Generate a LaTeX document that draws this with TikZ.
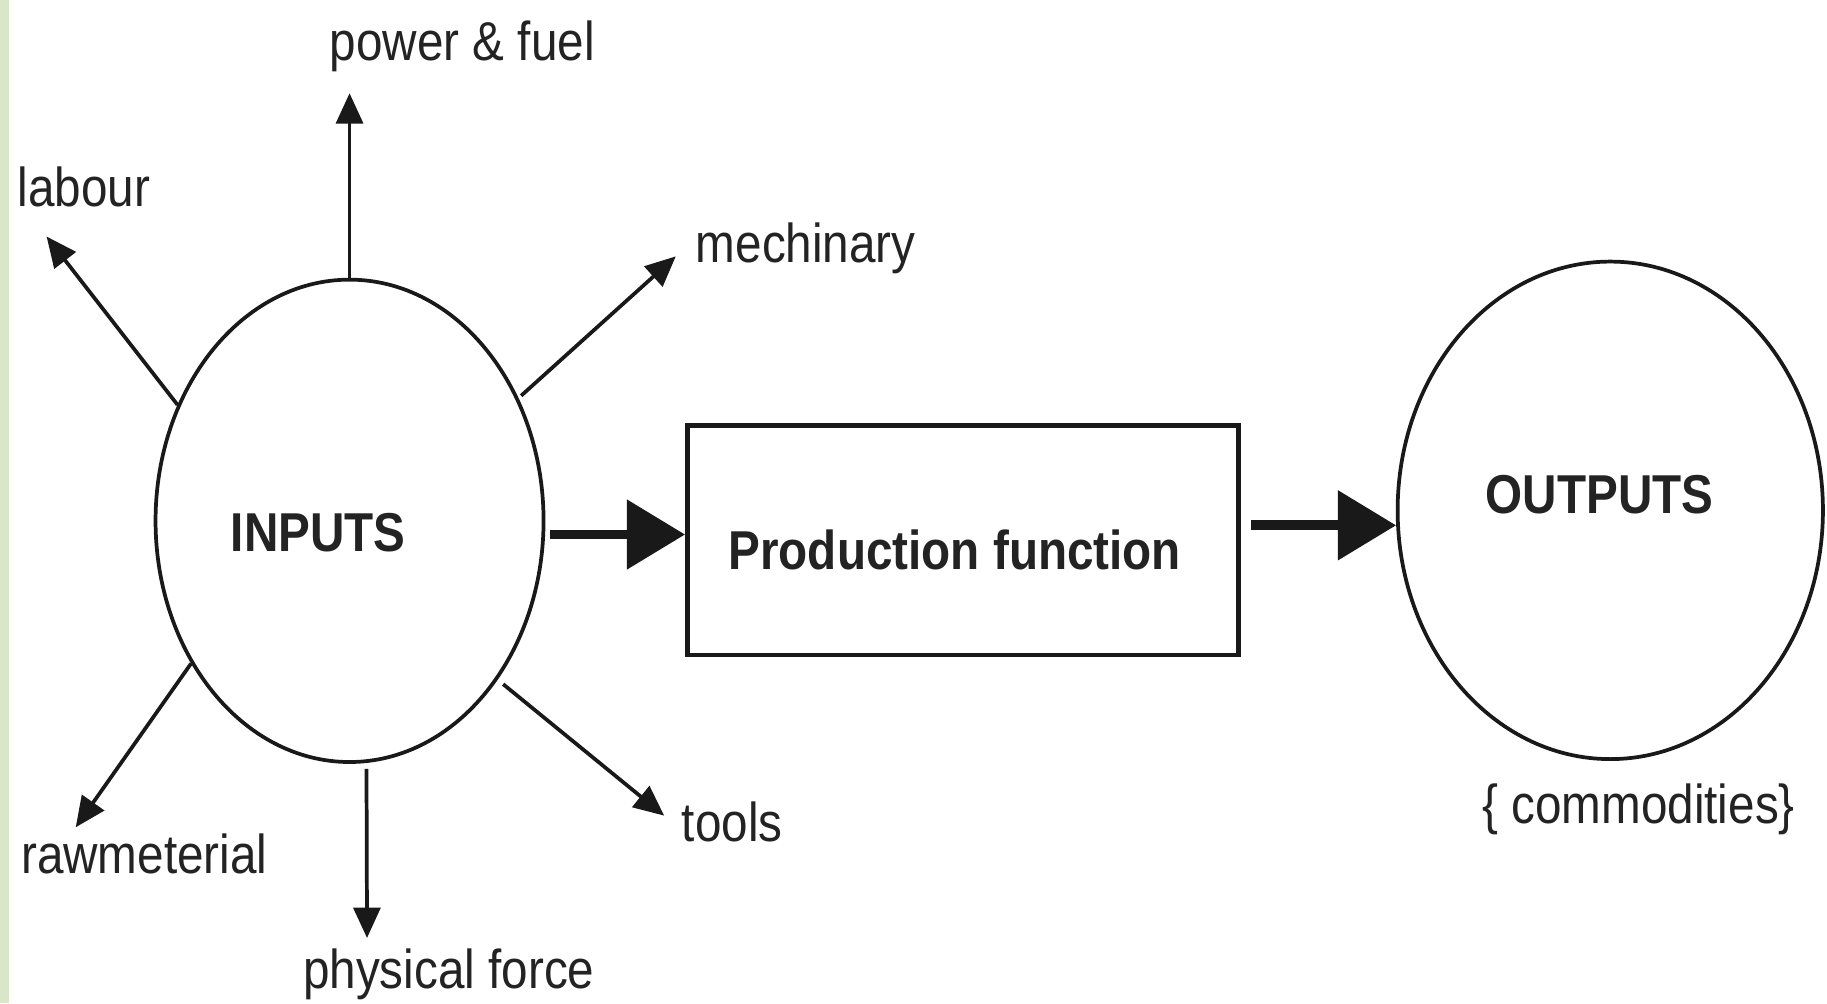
\documentclass[tikz,border=0pt]{standalone}
\usepackage{fontspec}
\setmainfont{Liberation Sans}[FakeStretch=0.87]
\usetikzlibrary{arrows.meta,shapes.geometric}
\definecolor{ink}{RGB}{25,25,25}
\definecolor{txt}{RGB}{35,35,35}
\definecolor{strip}{RGB}{218,230,200}
\begin{document}
\begin{tikzpicture}[x=1pt,y=-1pt,
  lbl/.style={anchor=base west,inner sep=0pt,font=\fontsize{47}{55}\selectfont,text=txt},
  blbl/.style={anchor=base west,inner sep=0pt,font=\fontsize{47}{55}\selectfont\bfseries,text=txt},
  thinarrow/.style={draw=ink,line width=3.2pt,-{Triangle[length=26pt,width=23pt]}},
  thickarrow/.style={draw=ink,line width=8.5pt,-{Triangle[length=50pt,width=58pt]}},
]
\fill[white] (0,0) rectangle (1568,861);
\fill[strip] (0,0) rectangle (8,861);
\useasboundingbox (0,0) rectangle (1568,861);

% main shapes
\node[ellipse,draw=ink,line width=3.2pt,minimum width=333pt,minimum height=414pt,inner sep=0pt] (inputs) at (300,447) {};
\node[rectangle,draw=ink,line width=4pt,minimum width=473pt,minimum height=197pt,inner sep=0pt] (pf) at (826.5,463.5) {};
\node[ellipse,draw=ink,line width=3.2pt,minimum width=365pt,minimum height=427pt,inner sep=0pt] (outputs) at (1382,438) {};

% texts
\node[blbl] (tin) at (198,473) {INPUTS};
\node[blbl] (tpf) at (625,489) {Production function};
\node[blbl] (tout) at (1275,441) {OUTPUTS};
\node[lbl] (lpow) at (283,52) {power \& fuel};
\node[lbl] (llab) at (15,177) {labour};
\node[lbl] (lmech) at (597,225) {mechinary};
\node[lbl] (lraw) at (18,750) {rawmeterial};
\node[lbl] (lphys) at (260,848) {physical force};
\node[lbl] (ltools) at (585,722) {tools};
\node[lbl] (lcom) at (1272,707) {\{ commodities\}};

% arrow tips
\coordinate (tpow) at (300,80);
\coordinate (tlab) at (40,203);
\coordinate (tmech) at (580,220);
\coordinate (traw) at (65,710);
\coordinate (tphys) at (315,805);
\coordinate (ttools) at (570,700);

\draw[thinarrow] (inputs.90) -- (tpow);
\draw[thinarrow] (inputs.146) -- (tlab);
\draw[thinarrow,shorten <=3pt] (inputs.36) -- (tmech);
\draw[thinarrow] (inputs.222) -- (traw);
\draw[thinarrow,shorten <=5pt] (inputs.274) -- (tphys);
\draw[thinarrow,shorten <=6pt] (inputs.313) -- (ttools);

\draw[thickarrow,shorten <=4pt] (inputs.-4) -- (inputs.-4 -| pf.west);
\draw[thickarrow,shorten <=9pt] (pf.east |- outputs.184) -- (outputs.184);
\end{tikzpicture}
\end{document}
